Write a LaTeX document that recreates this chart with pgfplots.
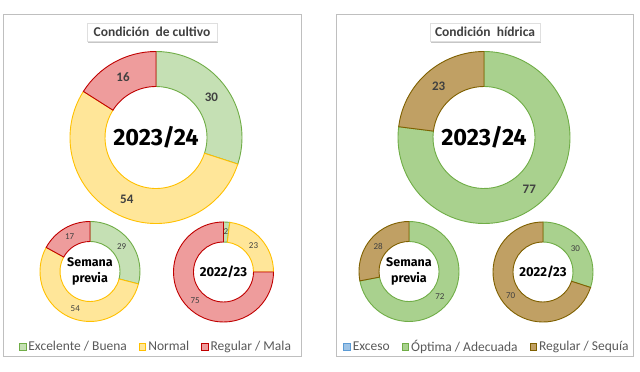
\documentclass[border=0pt]{standalone}
\usepackage{fontspec}
\setmainfont{Carlito}
\newfontfamily\dinfont{Fira Sans}
\usepackage{pgfplots}
\pgfplotsset{compat=1.18}
\usetikzlibrary{shadows}

\definecolor{gFill}{HTML}{C5E0B4}
\definecolor{gDraw}{HTML}{70AD47}
\definecolor{yFill}{HTML}{FFE699}
\definecolor{yDraw}{HTML}{FFC000}
\definecolor{rFill}{HTML}{EE9C9C}
\definecolor{rDraw}{HTML}{C00000}
\definecolor{oFill}{HTML}{A9D18E}
\definecolor{oDraw}{HTML}{70AD47}
\definecolor{sFill}{HTML}{C0A064}
\definecolor{sDraw}{HTML}{7F6000}
\definecolor{bFill}{HTML}{9DC3E6}
\definecolor{bDraw}{HTML}{5B9BD5}
\definecolor{labgray}{HTML}{404040}
\definecolor{leggray}{HTML}{595959}
\definecolor{framegray}{HTML}{BFBFBF}

\tikzset{
  biglab/.style={font=\bfseries\fontsize{13}{14}\selectfont, text=labgray},
  smalllab/.style={font=\fontsize{9}{10}\selectfont, text=labgray},
}

% ring: center x, center y, outer radius, inner radius
\newcommand\ring[4]{\def\cx{#1}\def\cy{#2}\def\Ro{#3}\def\Ri{#4}\def\cum{0}}
% seg: value (%), fill, draw, label style
\newcommand\seg[4]{%
  \ifdim #1pt>0pt
  \pgfmathsetmacro\aS{90-3.6*\cum}%
  \pgfmathsetmacro\aE{90-3.6*(\cum+#1)}%
  \pgfmathsetmacro\aM{(\aS+\aE)/2}%
  \pgfmathsetmacro\rM{(\Ro+\Ri)/2}%
  \pgfmathsetmacro\xA{\cx+\Ro*cos(\aS)}%
  \pgfmathsetmacro\yA{\cy+\Ro*sin(\aS)}%
  \pgfmathsetmacro\xB{\cx+\Ri*cos(\aE)}%
  \pgfmathsetmacro\yB{\cy+\Ri*sin(\aE)}%
  \pgfmathsetmacro\xM{\cx+\rM*cos(\aM)}%
  \pgfmathsetmacro\yM{\cy+\rM*sin(\aM)}%
  \edef\tmp{\noexpand\filldraw[fill=#2,draw=#3,line width=0.9pt] (axis cs:\xA,\yA) arc[start angle=\aS,end angle=\aE,radius=\Ro pt] -- (axis cs:\xB,\yB) arc[start angle=\aE,end angle=\aS,radius=\Ri pt] -- cycle;
    \noexpand\node[#4] at (axis cs:\xM,\yM) {#1};}%
  \tmp
  \pgfmathsetmacro\cum{\cum+#1}%
  \fi
}

\pgfplotsset{
  panel/.style={
    scale only axis, width=320pt, height=372pt,
    ymin=0, ymax=372, hide axis, clip=false,
    legend columns=3,
    legend style={draw=none, fill=none, inner sep=0pt,
      font=\fontsize{13.5}{14}\selectfont, text=leggray,
      /tikz/every even column/.append style={column sep=10pt}},
    legend image code/.code={\draw[##1, line width=0.8pt] (0pt,-3.3pt) rectangle (6.6pt,3.3pt);},
  },
}

\begin{document}
\begin{tikzpicture}
\useasboundingbox (0pt,0pt) rectangle (640pt,372pt);

% ---------------- Condición de cultivo ----------------
\begin{axis}[panel, at={(0pt,0pt)}, anchor=south west, xmin=0, xmax=320,
  legend style={at={(axis cs:156,25)}, anchor=center}]
\draw[framegray, line width=0.7pt] (axis cs:3,16) rectangle (axis cs:301,358);
\addlegendimage{fill=gFill, draw=gDraw}\addlegendentry{Excelente / Buena}
\addlegendimage{fill=yFill, draw=yDraw}\addlegendentry{Normal}
\addlegendimage{fill=rFill, draw=rDraw}\addlegendentry{Regular / Mala}
% 2023/24
\ring{156}{234.5}{86}{51}
\seg{30}{gFill}{gDraw}{biglab}
\seg{54}{yFill}{yDraw}{biglab}
\seg{16}{rFill}{rDraw}{biglab}
% Semana previa
\ring{90}{100.5}{50}{30}
\seg{29}{gFill}{gDraw}{smalllab}
\seg{54}{yFill}{yDraw}{smalllab}
\seg{17}{rFill}{rDraw}{smalllab}
% 2022/23
\ring{223.5}{100}{50}{30}
\seg{2}{gFill}{gDraw}{smalllab}
\seg{23}{yFill}{yDraw}{smalllab}
\seg{75}{rFill}{rDraw}{smalllab}
\node[font=\dinfont\bfseries\fontsize{23.5}{24}\selectfont] at (axis cs:156,234.5) {2023/24};
\node[align=center, font=\dinfont\bfseries\fontsize{12.5}{15.5}\selectfont] at (axis cs:90,100.5) {Semana\\previa};
\node[font=\dinfont\bfseries\fontsize{13}{15}\selectfont] at (axis cs:223.5,100) {2022/23};
\node[fill=white, draw=gray!25, minimum width=130pt, minimum height=18pt, inner sep=0pt,
  drop shadow={shadow xshift=1pt, shadow yshift=-1.6pt, opacity=0.45},
  font=\bfseries\fontsize{13.5}{14}\selectfont, text=labgray] at (axis cs:152,340) {Condición\ \ de cultivo};
\end{axis}

% ---------------- Condición hídrica ----------------
\begin{axis}[panel, at={(320pt,0pt)}, anchor=south west, xmin=320, xmax=640,
  legend style={at={(axis cs:487,25)}, anchor=center}]
\draw[framegray, line width=0.7pt] (axis cs:336,16) rectangle (axis cs:633,358);
\addlegendimage{fill=bFill, draw=bDraw}\addlegendentry{Exceso}
\addlegendimage{fill=oFill, draw=oDraw}\addlegendentry{Óptima / Adecuada}
\addlegendimage{fill=sFill, draw=sDraw}\addlegendentry{Regular / Sequía}
% 2023/24
\ring{484}{234.5}{86}{51}
\seg{0}{bFill}{bDraw}{biglab}
\seg{77}{oFill}{oDraw}{biglab}
\seg{23}{sFill}{sDraw}{biglab}
% Semana previa
\ring{409}{100.5}{50}{30}
\seg{0}{bFill}{bDraw}{smalllab}
\seg{72}{oFill}{oDraw}{smalllab}
\seg{28}{sFill}{sDraw}{smalllab}
% 2022/23
\ring{543}{100}{50}{30}
\seg{0}{bFill}{bDraw}{smalllab}
\seg{30}{oFill}{oDraw}{smalllab}
\seg{70}{sFill}{sDraw}{smalllab}
\node[font=\dinfont\bfseries\fontsize{23.5}{24}\selectfont] at (axis cs:484,234.5) {2023/24};
\node[align=center, font=\dinfont\bfseries\fontsize{12.5}{15.5}\selectfont] at (axis cs:409,100.5) {Semana\\previa};
\node[font=\dinfont\bfseries\fontsize{13}{15}\selectfont] at (axis cs:543,100) {2022/23};
\node[fill=white, draw=gray!25, minimum width=110pt, minimum height=18pt, inner sep=0pt,
  drop shadow={shadow xshift=1pt, shadow yshift=-1.6pt, opacity=0.45},
  font=\bfseries\fontsize{13.5}{14}\selectfont, text=labgray] at (axis cs:485,340) {Condición\ \ hídrica};
\end{axis}
\end{tikzpicture}
\end{document}
